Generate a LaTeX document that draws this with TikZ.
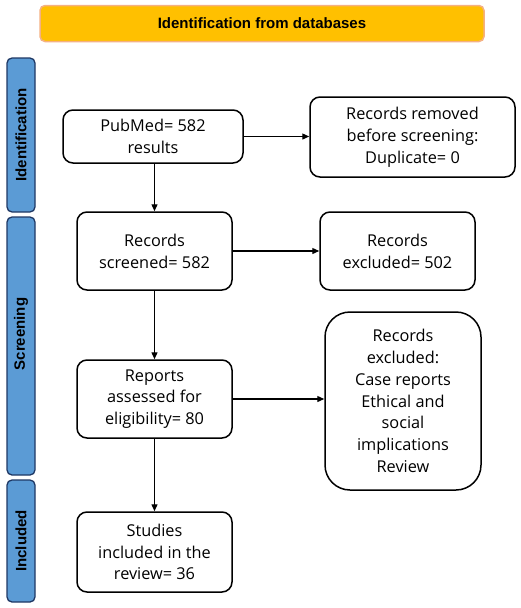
\documentclass[tikz,border=0pt]{standalone}
\usepackage{fontspec}
\setmainfont{Liberation Sans}
\newfontfamily\boxfont{Open Sans}
\usetikzlibrary{arrows.meta}
\definecolor{bannerfill}{HTML}{FFC000}
\definecolor{bannerline}{HTML}{F4B183}
\definecolor{barfill}{HTML}{5B9BD5}
\definecolor{barline}{HTML}{1F3864}
\tikzset{
  flowbox/.style={draw=black, line width=1.5pt, rounded corners=10pt, fill=white,
    align=center, inner sep=0pt, font=\boxfont\fontsize{16.3}{21.8}\selectfont},
  phasebar/.style={draw=barline, line width=1.3pt, fill=barfill, rounded corners=5pt,
    inner sep=0pt, minimum width=28pt},
  phaselabel/.style={rotate=90, font=\fontsize{15}{17}\selectfont\bfseries},
  flowarrow/.style={line width=1.3pt, -{Triangle[length=7pt,width=6pt]}},
}
\begin{document}
\begin{tikzpicture}[x=1pt,y=-1pt]
\useasboundingbox (0,0) rectangle (520,608);
% banner
\node[draw=bannerline, line width=1.5pt, fill=bannerfill, rounded corners=5pt,
  minimum width=444pt, minimum height=36pt, inner sep=0pt,
  font=\fontsize{15}{17}\selectfont\bfseries] (banner) at (262,23.5) {Identification from databases};
% phase bars
\node[phasebar, minimum height=154pt] (identbar) at (21,135) {};
\node[phaselabel] (identlbl) at (21,135) {Identification};
\node[phasebar, minimum height=258pt] (screenbar) at (21,346) {};
\node[phaselabel] (screenlbl) at (21,334) {Screening};
\node[phasebar, minimum height=122pt] (inclbar) at (21,541) {};
\node[phaselabel] (incllbl) at (21,541) {Included};
% boxes
\node[flowbox, minimum width=180pt, minimum height=53pt] (pubmed) at (153,136.5) {PubMed= 582\\results};
\node[flowbox, minimum width=205pt, minimum height=80pt] (removed) at (412.5,137) {Records removed\\before screening:\\Duplicate= 0};
\node[flowbox, minimum width=155pt, minimum height=78pt] (screened) at (154.5,251) {Records\\screened= 582};
\node[flowbox, minimum width=155pt, minimum height=78pt] (excl) at (397.5,251) {Records\\excluded= 502};
\node[flowbox, minimum width=155pt, minimum height=78pt] (reports) at (154.5,399) {Reports\\assessed for\\eligibility= 80};
\node[flowbox, rounded corners=25pt, minimum width=156pt, minimum height=178pt] (exclbig) at (403,401) {Records\\excluded:\\Case reports\\Ethical and\\social\\implications\\Review};
\node[flowbox, minimum width=155pt, minimum height=80pt] (studies) at (154.5,552) {Studies\\included in the\\review= 36};
% connectors
\draw[flowarrow] (pubmed.east) -- (removed.west |- pubmed.east);
\draw[flowarrow] (pubmed.south -| screened.north) -- (screened.north);
\draw[flowarrow] (screened.east) -- (excl.west);
\draw[flowarrow] (screened.south) -- (reports.north);
\draw[flowarrow] (reports.east) -- (exclbig.west |- reports.east);
\draw[flowarrow] (reports.south) -- (studies.north);
\end{tikzpicture}
\end{document}
